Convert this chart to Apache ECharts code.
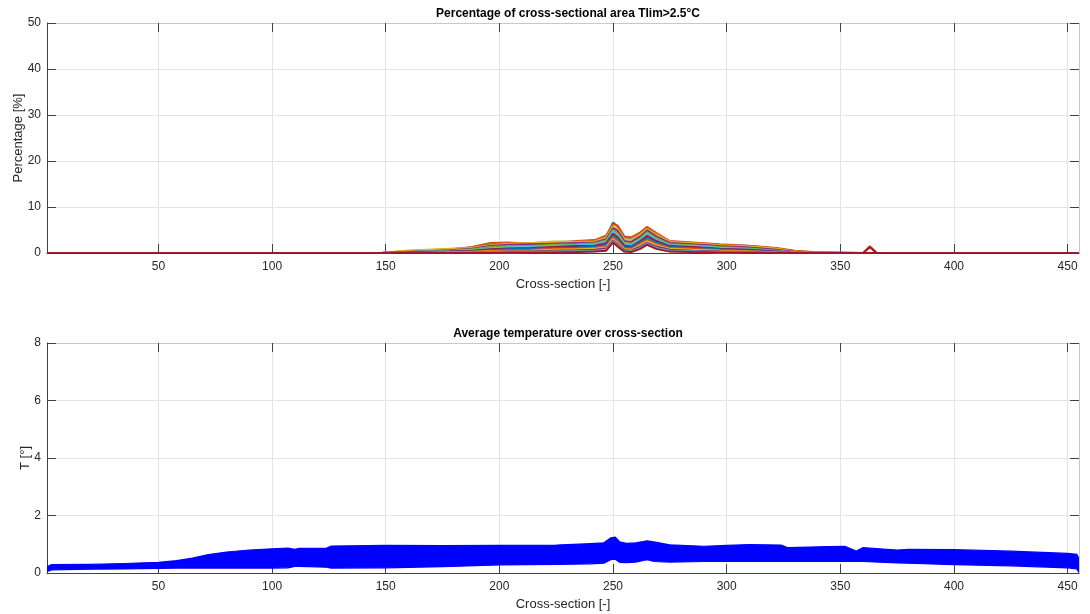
<!DOCTYPE html>
<html><head><meta charset="utf-8">
<script src="https://cdn.jsdelivr.net/npm/echarts@6/dist/echarts.min.js"></script>
<style>html,body{margin:0;padding:0;background:#fff}#c{width:1090px;height:614px}</style>
</head><body><div id="c"></div>
<script>
// ---- data ----
const xTicks = [50,100,150,200,250,300,350,400,450];
const pctTicks = [0,10,20,30,40,50];
const tTicks = [0,2,4,6,8];

// Top subplot: sample positions along cross-section
const pctX = [1,148,158,168,178,188,196,204,214,224,234,242,247,250,252,255,258,262,265,269,275,285,297,310,322,330,338,360,363,366,455];
const pct1  = [0,0,0.4,0.6,0.8,1.2,2.0,2.2,2.1,2.4,2.5,2.7,3.6,6.6,5.8,3.4,3.2,4.3,5.5,4.2,2.5,2.2,1.8,1.5,1.0,0.4,0.1,0,0,0,0];
const pct2  = [0,0,0.3,0.5,0.7,1.3,2.2,2.3,2.0,2.2,2.6,2.8,3.8,6.2,6.0,3.6,3.4,4.5,5.7,4.4,2.6,2.3,1.9,1.6,1.1,0.5,0.2,0,1.5,0,0];
const pct3  = [0,0,0.5,0.7,0.9,1.1,1.7,2.0,2.2,2.5,2.4,2.5,3.3,5.8,5.2,3.0,2.9,4.0,5.2,4.0,2.4,2.1,1.7,1.4,0.9,0.3,0,0,1.2,0,0];
const pct4  = [0,0,0.2,0.4,0.6,0.9,1.5,1.8,1.9,2.0,2.2,2.3,3.0,5.4,4.8,2.6,2.4,3.6,4.9,3.6,2.2,1.9,1.5,1.2,0.7,0.2,0,0,0,0,0];
const pct5  = [0,0,0.2,0.3,0.5,0.8,1.3,1.5,1.6,1.8,1.9,2.1,2.7,5.0,4.3,2.2,2.0,3.2,4.5,3.2,1.9,1.7,1.3,1.0,0.5,0.1,0,0,0,0,0];
const pct6  = [0,0,0.1,0.3,0.4,0.6,1.0,1.2,1.3,1.5,1.7,1.8,2.4,4.6,3.8,1.9,1.7,2.9,4.1,2.9,1.7,1.5,1.1,0.8,0.4,0.1,0,0,0,0,0];
const pct7  = [0,0,0.1,0.2,0.3,0.5,0.8,1.0,1.1,1.3,1.5,1.6,2.1,4.2,3.4,1.6,1.4,2.6,3.7,2.6,1.5,1.3,0.9,0.7,0.3,0,0,0,1.3,0,0];
const pct8  = [0,0,0,0.1,0.2,0.4,0.6,0.8,0.9,1.1,1.2,1.4,1.8,3.8,3.0,1.3,1.2,2.3,3.3,2.3,1.3,1.1,0.8,0.5,0.2,0,0,0,0,0,0];
const pct9  = [0,0,0,0.1,0.1,0.3,0.5,0.6,0.7,0.9,1.0,1.1,1.5,3.4,2.6,1.0,0.9,2.0,2.9,2.0,1.1,0.9,0.6,0.4,0.1,0,0,0,0,0,0];
const pct10 = [0,0,0,0,0.1,0.2,0.3,0.4,0.5,0.7,0.8,0.9,1.2,3.0,2.2,0.8,0.7,1.7,2.5,1.7,0.9,0.7,0.5,0.3,0.1,0,0,0,0,0,0];
const pct11 = [0,0,0,0,0,0.1,0.2,0.3,0.3,0.5,0.6,0.7,1.0,2.7,1.9,0.6,0.5,1.4,2.2,1.4,0.7,0.5,0.3,0.2,0,0,0,0,0,0,0];
const pct12 = [0,0,0,0,0,0,0.1,0.1,0.2,0.3,0.4,0.5,0.7,2.4,1.6,0.4,0.3,1.1,1.9,1.1,0.5,0.3,0.2,0.1,0,0,0,0,0,0,0];
const pct13 = [0,0,0,0,0,0,0.1,0.2,0.2,0.2,0.3,0.4,0.6,2.5,1.5,0.3,0.3,1.0,2.0,1.0,0.4,0.3,0.1,0,0,0,0,0,0,0,0];
const pct14 = [0,0,0,0,0,0,0,0.1,0.1,0.1,0.2,0.3,0.5,2.3,1.4,0.3,0.2,0.9,1.8,0.9,0.3,0.2,0.1,0,0,0,0,0,0,0,0];
const pctSeries = [pct1,pct2,pct3,pct4,pct5,pct6,pct7,pct8,pct9,pct10,pct11,pct12,pct13,pct14];
const matlabColors = ['#0072BD','#D95319','#EDB120','#7E2F8E','#77AC30','#4DBEEE','#A2142F'];

// Bottom subplot: envelope of the blue band of lines
const tX =    [1,3,20,35,50,58,65,72,80,90,100,107,110,112,124,126,150,175,200,225,240,246,249,251,253,256,260,265,268,275,290,300,310,324,327,345,352,357,360,375,380,400,425,450,454,455];
const tUpper = [0.22,0.29,0.30,0.33,0.37,0.43,0.52,0.64,0.73,0.80,0.84,0.87,0.82,0.86,0.87,0.94,0.96,0.95,0.96,0.97,1.02,1.05,1.22,1.25,1.08,1.03,1.05,1.12,1.08,0.98,0.93,0.96,0.99,0.97,0.88,0.92,0.93,0.76,0.88,0.80,0.82,0.81,0.76,0.68,0.65,0.50];
const tLower = [0.05,0.11,0.13,0.14,0.16,0.17,0.17,0.17,0.17,0.17,0.17,0.18,0.23,0.23,0.20,0.17,0.18,0.22,0.28,0.30,0.32,0.34,0.46,0.48,0.37,0.36,0.38,0.46,0.40,0.38,0.40,0.40,0.40,0.40,0.40,0.40,0.40,0.40,0.40,0.35,0.34,0.29,0.25,0.18,0.14,0.02];

// ---- chart ----
const FONT = '"Liberation Sans", Arial, sans-serif';
const TXT = '#262626';
const chart = echarts.init(document.getElementById('c'), null, {renderer:'canvas'});

const grids = [
  {left:47, right:11, top:23, height:230, outerBoundsMode:'none', containLabel:false},
  {left:47, right:11, top:343, height:230, outerBoundsMode:'none', containLabel:false}
];

function xAxes(gi){
  return [
    {type:'value', gridIndex:gi, min:1, max:455, position:'bottom',
     name:'Cross-section [-]', nameLocation:'middle', nameGap:25, nameMoveOverlap:false,
     nameTextStyle:{fontFamily:FONT, fontSize:13, color:TXT},
     axisLine:{show:true, onZero:false, lineStyle:{color:'#404040', width:1}},
     axisTick:{show:true, inside:true, length:9, customValues:xTicks, lineStyle:{color:'#404040'}},
     axisLabel:{show:true, customValues:xTicks, margin:8, fontFamily:FONT, fontSize:12, color:TXT},
     splitLine:{show:true, lineStyle:{color:'#e4e4e4', width:1}}},
    {type:'value', gridIndex:gi, min:1, max:455, position:'top',
     axisLine:{show:true, onZero:false, lineStyle:{color:'#c8c8c8', width:1}},
     axisTick:{show:true, inside:true, length:9, customValues:xTicks, lineStyle:{color:'#404040'}},
     axisLabel:{show:false}, splitLine:{show:false}}
  ];
}
function yAxes(gi, max, interval, name, gap){
  return [
    {type:'value', gridIndex:gi, min:0, max:max, interval:interval, position:'left',
     name:name, nameLocation:'middle', nameGap:gap, nameRotate:90, nameMoveOverlap:false,
     nameTextStyle:{fontFamily:FONT, fontSize:13, color:TXT},
     axisLine:{show:true, lineStyle:{color:'#404040', width:1}},
     axisTick:{show:true, inside:true, length:9, lineStyle:{color:'#404040'}},
     axisLabel:{margin:6, fontFamily:FONT, fontSize:12, color:TXT},
     splitLine:{show:true, lineStyle:{color:'#e4e4e4', width:1}}},
    {type:'value', gridIndex:gi, min:0, max:max, interval:interval, position:'right',
     axisLine:{show:true, lineStyle:{color:'#c8c8c8', width:1}},
     axisTick:{show:true, inside:true, length:9, lineStyle:{color:'#404040'}},
     axisLabel:{show:false}, splitLine:{show:false}}
  ];
}

const series = [];
pctSeries.forEach((arr, i) => {
  series.push({
    type:'line', xAxisIndex:0, yAxisIndex:0, showSymbol:false, symbol:'none',
    lineStyle:{width:2, color:matlabColors[i % 7]},
    data: pctX.map((x, k) => [x, arr[k]]),
    animation:false, silent:true, z:3
  });
});
// blue band of temperature lines: polygon between lower and upper envelopes
series.push({
  type:'custom', xAxisIndex:2, yAxisIndex:2, silent:true, animation:false, z:3,
  clip:true,
  data: tX.map((x,k)=>[x, tUpper[k], tLower[k]]),
  encode:{x:0, y:[1,2]},
  renderItem: function(params, api){
    if (params.dataIndex !== 0) return null;
    const pts = [];
    for (let k = 0; k < tX.length; k++) pts.push(api.coord([tX[k], tUpper[k]]));
    for (let k = tX.length - 1; k >= 0; k--) pts.push(api.coord([tX[k], tLower[k]]));
    return {type:'polygon', shape:{points:pts}, style:{fill:'#0000FF', stroke:'#0000FF', lineWidth:1.2}};
  }
});

chart.setOption({
  animation:false,
  backgroundColor:'#ffffff',
  title:[
    {text:'Percentage of cross-sectional area Tlim>2.5°C', left:563, top:3, textAlign:'center',
     textStyle:{fontFamily:FONT, fontSize:12, fontWeight:'bold', color:'#000'}},
    {text:'Average temperature over cross-section', left:563, top:323, textAlign:'center',
     textStyle:{fontFamily:FONT, fontSize:12, fontWeight:'bold', color:'#000'}}
  ],
  grid:grids,
  xAxis:[...xAxes(0), ...xAxes(1)],
  yAxis:[...yAxes(0, 50, 10, 'Percentage [%]', 22), ...yAxes(1, 8, 2, 'T [°]', 15)],
  series:series
});
</script></body></html>
